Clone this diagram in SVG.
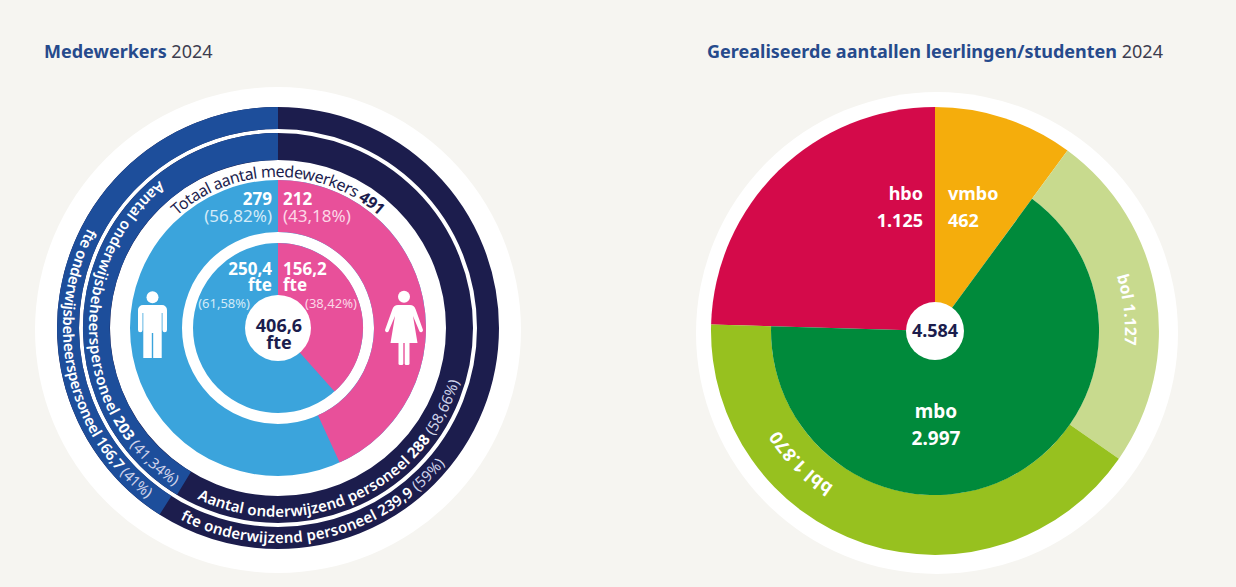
<svg xmlns="http://www.w3.org/2000/svg" width="1236" height="587" viewBox="0 0 1236 587">
<defs>
<style>
text{font-family:"Noto Sans","Open Sans","Liberation Sans",sans-serif}
.ttl{font-size:18px;fill:#264a8c;font-weight:700}
.yr{font-weight:400;fill:#3d3d4f}
.num{font-size:17px;font-weight:700;fill:#fff}
.pb{font-size:17px;fill:#d3ebf8}
.pp{font-size:17px;fill:#fcd7e7}
.sm{font-size:13px}
.ring{font-size:15px;fill:#fff;font-weight:600}
.rb{font-weight:700}
.rp{font-weight:400;fill:#cfd3ea}
.lab{font-size:18px;font-weight:700;fill:#fff}
.dk{fill:#1c1d4d;font-weight:700;font-size:18px}
.st{fill:none}
</style>
<path id="pTop" d="M147.23,252.5 A151,151 0 0 1 408.77,252.5"/>
<path id="pInL" d="M204.76,153.76 A189,189 0 0 0 222.11,508.55"/>
<path id="pOutL" d="M162.8,146.5 A215,215 0 0 0 249.56,541.1"/>
<path id="pInB" d="M142.3,459.5 A189,189 0 0 0 466.5,314.5"/>
<path id="pOutB" d="M95.5,441.6 A215,215 0 0 0 490.9,358.3"/>
<path id="pBol" d="M980,146.4 A190,190 0 0 1 1019.2,501.3"/>
<path id="pBbl" d="M1012,499.2 A185,185 0 0 1 767.9,251.7"/>
</defs>
<rect width="1236" height="587" fill="#f6f5f1"/>

<g id="titles">
<text id="title-left" class="ttl" x="44" y="58">Medewerkers<tspan class="yr"> 2024</tspan></text>
<text id="title-right" class="ttl" x="707" y="58" textLength="456" lengthAdjust="spacingAndGlyphs">Gerealiseerde aantallen leerlingen/studenten<tspan class="yr"> 2024</tspan></text>
</g>

<g id="medewerkers-chart">
<circle cx="278" cy="330" r="243" fill="#fff"/>
<g id="ring-fte">
<circle class="st" cx="278" cy="328" r="210" stroke="#1c1d4d" stroke-width="22"/>
<path class="st" d="M165.5,505.3 A210,210 0 0 1 278,118" stroke="#1d4e9b" stroke-width="22"/>
<text class="ring"><textPath href="#pOutL" startOffset="50%" text-anchor="middle" textLength="301" lengthAdjust="spacing">fte onderwijsbeheerspersoneel 166,7<tspan class="rp"> (41%)</tspan></textPath></text>
<text class="ring"><textPath href="#pOutB" startOffset="50%" text-anchor="middle" textLength="293" lengthAdjust="spacing">fte onderwijzend personeel 239,9<tspan class="rp"> (59%)</tspan></textPath></text>
</g>
<g id="ring-aantal">
<circle class="st" cx="278" cy="328" r="181.5" stroke="#1c1d4d" stroke-width="27"/>
<path class="st" d="M184,483.3 A181.5,181.5 0 0 1 278,146.5" stroke="#1d4e9b" stroke-width="27"/>
<text class="ring"><textPath href="#pInL" startOffset="50%" text-anchor="middle" textLength="356" lengthAdjust="spacing">Aantal onderwijsbeheerspersoneel <tspan class="rb">203</tspan><tspan class="rp"> (41,34%)</tspan></textPath></text>
<text class="ring"><textPath href="#pInB" startOffset="50%" text-anchor="middle" textLength="326" lengthAdjust="spacing">Aantal onderwijzend personeel <tspan class="rb">288</tspan><tspan class="rp"> (58,66%)</tspan></textPath></text>
</g>
<g id="total-label">
<text style="font-size:16px;fill:#1c1d4d"><textPath href="#pTop" startOffset="50%" text-anchor="middle" textLength="221" lengthAdjust="spacing">Totaal aantal medewerkers <tspan style="font-weight:700">491</tspan></textPath></text>
</g>
<g id="ring-gender">
<circle class="st" cx="278" cy="328" r="122" stroke="#3ba4dc" stroke-width="52"/>
<path class="st" d="M278,206 A122,122 0 0 1 328.8,438.9" stroke="#e8509a" stroke-width="52"/>
<text class="num" x="272" y="205" text-anchor="end">279</text>
<text class="pb" x="272" y="222" text-anchor="end">(56,82%)</text>
<text class="num" x="283" y="205">212</text>
<text class="pp" x="283" y="222">(43,18%)</text>
<path id="icon-man" fill="#fff" d="M143,305 h19 a5,5 0 0 1 5,5 v20 a2.25,2.25 0 0 1 -4.5,0 v-17 h-0.8 v45 h-8.5 v-25 h-1.4 v25 h-8.5 v-45 h-0.8 v17 a2.25,2.25 0 0 1 -4.5,0 v-20 a5,5 0 0 1 5,-5 z"/>
<circle cx="152.5" cy="297.3" r="6" fill="#fff"/>
<path id="icon-woman" fill="#fff" d="M398,305 h12 Q414,305 415.5,309 L423,330 A2,2 0 0 1 419.5,331.5 L413,316 L417.5,343 H390.5 L395,316 L388.5,331.5 A2,2 0 0 1 385,330 L392.5,309 Q394,305 398,305 z"/>
<rect x="398.5" y="341" width="4.8" height="24" rx="1.5" fill="#fff"/>
<rect x="404.7" y="341" width="4.8" height="24" rx="1.5" fill="#fff"/>
<circle cx="404" cy="296.7" r="6" fill="#fff"/>
</g>
<g id="ring-gender-fte">
<circle class="st" cx="278" cy="328" r="58.5" stroke="#3ba4dc" stroke-width="53"/>
<path class="st" d="M278,269.5 A58.5,58.5 0 0 1 316.9,371.7" stroke="#e8509a" stroke-width="53"/>
<text class="num" x="272" y="275" text-anchor="end">250,4</text>
<text class="num" x="272" y="291" text-anchor="end">fte</text>
<text class="pb sm" x="250" y="308" text-anchor="end">(61,58%)</text>
<text class="num" x="283" y="275">156,2</text>
<text class="num" x="283" y="291">fte</text>
<text class="pp sm" x="305" y="308">(38,42%)</text>
</g>
<g id="center-fte">
<circle cx="278" cy="328" r="33" fill="#fff"/>
<text class="dk" x="279" y="332" text-anchor="middle">406,6</text>
<text class="dk" x="279" y="349" text-anchor="middle">fte</text>
</g>
</g>

<g id="leerlingen-chart">
<circle cx="937" cy="333" r="241" fill="#fff"/>
<g id="hbo">
<path d="M935,331 L711.1,324.5 A224,224 0 0 1 935,107 Z" fill="#d40a4a"/>
<text class="lab" x="923" y="200" text-anchor="end">hbo</text>
<text class="lab" x="923" y="227" text-anchor="end">1.125</text>
</g>
<g id="vmbo">
<path d="M935,331 L935,107 A224,224 0 0 1 1067.5,150.4 Z" fill="#f5ad0c"/>
<text class="lab" x="948" y="200">vmbo</text>
<text class="lab" x="948" y="227">462</text>
</g>
<g id="bol">
<path d="M1067.5,150.4 A224,224 0 0 1 1118.9,458.8 L1069.7,424.6 A164,164 0 0 0 1032,198.8 Z" fill="#c8da8e"/>
<text style="font-size:16px;font-weight:700;fill:#fff"><textPath href="#pBol" startOffset="50%" text-anchor="middle">bol 1.127</textPath></text>
</g>
<g id="bbl">
<path d="M1118.9,458.8 A224,224 0 0 1 711.1,324.5 L771.1,326.25 A164,164 0 0 0 1069.7,424.6 Z" fill="#97c11f"/>
<text style="font-size:18px;font-weight:700;fill:#fff"><textPath href="#pBbl" startOffset="50%" text-anchor="middle">bbl 1.870</textPath></text>
</g>
<g id="mbo">
<path d="M935,331 L1032,198.8 A164,164 0 1 1 771.1,326.25 Z" fill="#008a3b"/>
<text class="lab" style="font-size:19px" x="936" y="418" text-anchor="middle">mbo</text>
<text class="lab" style="font-size:19px" x="936" y="445" text-anchor="middle">2.997</text>
</g>
<g id="total-leerlingen">
<circle cx="935" cy="331" r="29" fill="#fff"/>
<text class="dk" x="935" y="337" text-anchor="middle">4.584</text>
</g>
</g>
<g id="connectors"/>
</svg>
